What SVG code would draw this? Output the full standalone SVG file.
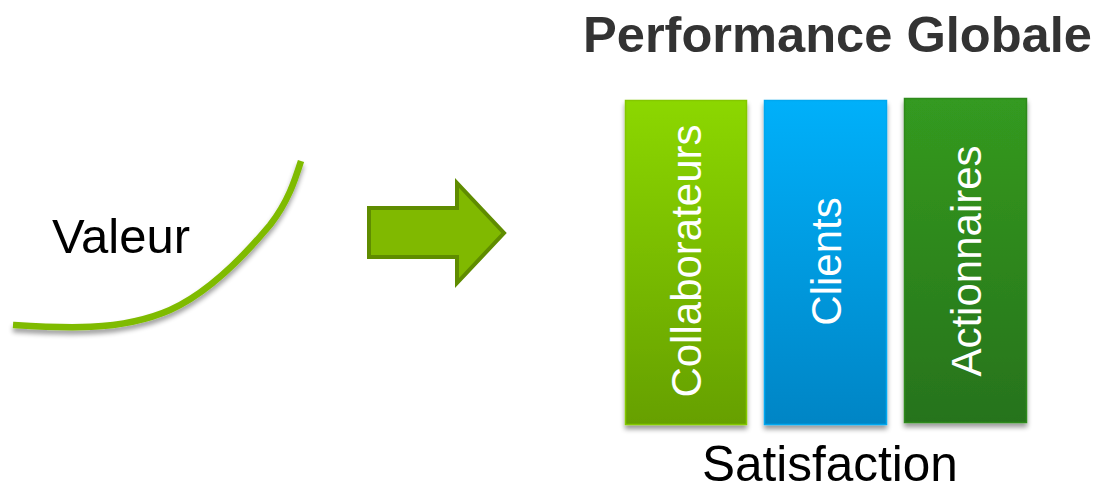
<svg xmlns="http://www.w3.org/2000/svg" width="1093" height="486" viewBox="0 0 1093 486">
<defs>
<style>
.t{font-family:"Liberation Sans",Arial,sans-serif;}
.box{stroke-width:1.5;filter:url(#sh);}
.lbl{font-family:"Liberation Sans",Arial,sans-serif;font-size:42px;fill:#fff;text-anchor:middle;}
</style>
<filter id="sh" x="-20%" y="-20%" width="140%" height="140%">
<feGaussianBlur in="SourceAlpha" stdDeviation="2.5"/>
<feOffset dx="0" dy="4" result="b"/>
<feComponentTransfer><feFuncA type="linear" slope="0.4"/></feComponentTransfer>
<feMerge><feMergeNode/><feMergeNode in="SourceGraphic"/></feMerge>
</filter>
<linearGradient id="g1" x1="0" y1="0" x2="0" y2="1"><stop offset="0" stop-color="#8cd700"/><stop offset="1" stop-color="#66a000"/></linearGradient>
<linearGradient id="g2" x1="0" y1="0" x2="0" y2="1"><stop offset="0" stop-color="#00b0fa"/><stop offset="1" stop-color="#0085c5"/></linearGradient>
<linearGradient id="g3" x1="0" y1="0" x2="0" y2="1"><stop offset="0" stop-color="#349a20"/><stop offset="1" stop-color="#27731a"/></linearGradient>
</defs>
<rect width="1093" height="486" fill="#fff"/>
<g id="title"><text class="t" x="583" y="52" font-size="50.6" font-weight="bold" fill="#333">Performance Globale</text></g>
<g id="valeur">
<path d="M13,325 C60,328 120,332 170,310 C210,292 245,255 270,225 C288,202 295,180 301,161" fill="none" stroke="#7fbb00" stroke-width="6.5" filter="url(#sh)"/>
<text class="t" x="52" y="253" font-size="49" fill="#000">Valeur</text>
</g>
<g id="connectors">
<polygon points="369,208 457,208 457,183 504,233 457,283 457,257 369,257" fill="#80b900" stroke="#5f8c00" stroke-width="4" stroke-linejoin="miter"/>
</g>
<g id="collaborateurs">
<rect class="box" x="625.5" y="100.5" width="121" height="324" fill="url(#g1)" stroke="#84c800"/>
<text class="lbl" transform="translate(701,261) rotate(-90)">Collaborateurs</text>
</g>
<g id="clients">
<rect class="box" x="764.5" y="100.5" width="122" height="324" fill="url(#g2)" stroke="#00a8f0"/>
<text class="lbl" transform="translate(841,261.5) rotate(-90)">Clients</text>
</g>
<g id="actionnaires">
<rect class="box" x="904.5" y="98.5" width="122" height="324" fill="url(#g3)" stroke="#2d8a1c"/>
<text class="lbl" transform="translate(981,261) rotate(-90)">Actionnaires</text>
</g>
<g id="satisfaction"><text class="t" x="702" y="481" font-size="49.5" fill="#000">Satisfaction</text></g>
</svg>
